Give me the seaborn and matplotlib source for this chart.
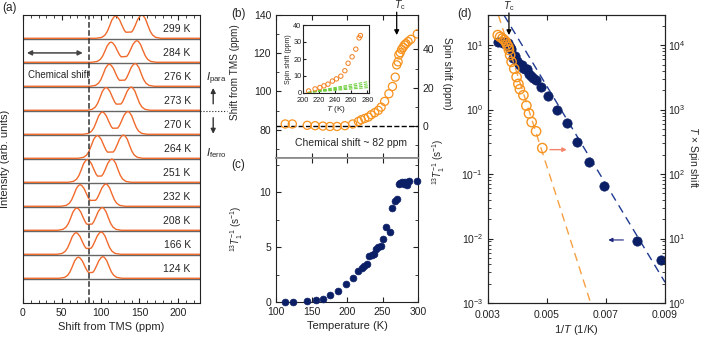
import numpy as np
import matplotlib
matplotlib.use("Agg")
import matplotlib.pyplot as plt
import seaborn as sns
from matplotlib.ticker import MultipleLocator, NullFormatter

# ---- (a) 13C NMR spectra -------------------------------------------------
spec_labels = ["124 K", "166 K", "208 K", "232 K", "251 K", "264 K",
               "270 K", "273 K", "276 K", "284 K", "299 K"]
peak1_ppm = [71.5, 68.5, 69.4, 73.7, 83.1, 95.9, 102.4, 107.1, 111.3, 113.5, 119.5]
peak2_ppm = [102.8, 100.6, 101.9, 106.6, 114.3, 129.3, 134.9, 139.2, 144.3, 146.5, 152.9]
peak1_h = [0.88, 0.90, 0.93, 0.90, 0.95, 0.95, 0.93, 0.95, 0.92, 0.84, 0.93]
peak2_h = [0.90, 0.93, 0.95, 0.93, 0.97, 0.97, 0.95, 0.97, 0.95, 0.90, 0.97]
# one peak's line profile (ppm offset, relative height)
profile_dx = [-25, -18, -14, -11, -8, -5, -2, 0, 2, 5, 8, 11, 13]
profile_y = [0.0, 0.04, 0.14, 0.30, 0.55, 0.82, 0.97, 1.0, 0.96, 0.82, 0.58, 0.36, 0.27]
chem_line_ppm = 85

# ---- (b) shift from TMS vs temperature ------------------------------------
shift_T = [113, 123, 144, 155, 166, 176, 186, 197, 208, 216, 220, 225, 230, 234,
           239, 244, 248, 253, 259, 264, 268, 270, 272, 273, 275, 277, 279, 281,
           283, 286, 290, 299]
shift_ppm = [83.0, 83.0, 82.3, 82.1, 81.9, 81.7, 81.7, 82.1, 83.0, 84.3, 85.2, 85.9,
             86.6, 87.8, 88.9, 90.1, 91.8, 94.8, 98.8, 102.6, 107.5, 113.9, 115.5,
             119.1, 120.3, 122.0, 123.1, 124.3, 125.0, 126.1, 127.3, 130.1]
chem_shift = 82

# inset: spin shift
inset_T = [207, 215, 221, 226, 231, 236.5, 241.5, 247, 252, 256, 261, 265.6, 269.7, 271.4]
inset_spin = [1.2, 2.4, 3.2, 4.2, 5.2, 7.0, 8.3, 9.9, 13.1, 17.5, 21.3, 25.8, 32.4, 33.8]
green_x = [206, 282]
green_ends = [6.8, 5.5, 4.3, 3.2]

# ---- (c)/(d) 13C 1/T1 ------------------------------------------------------
t1_T = [112.6, 124, 144, 156, 166.5, 176, 187, 198, 208, 216, 221, 224, 228, 231.6,
        235, 238, 241, 244, 247.5, 251, 255, 260, 264, 268, 270, 273, 275, 278, 280,
        282, 284, 288, 299]
t1_rate = [0.0046, 0.0093, 0.066, 0.153, 0.314, 0.61, 0.97, 1.61, 2.2, 2.85, 3.1,
           3.3, 3.5, 4.2, 4.3, 4.4, 4.85, 5.0, 5.1, 5.76, 6.8, 6.36, 8.55, 9.2, 9.4,
           10.76, 10.8, 10.9, 10.7, 10.9, 10.6, 11.0, 11.0]

# ---- (d) T x spin shift vs 1/T ----------------------------------------------
tspin_invT = [0.00333, 0.00341, 0.00349, 0.00355, 0.00360, 0.00364, 0.00369,
              0.00371, 0.00375, 0.00380, 0.00389, 0.00397, 0.00403, 0.00408,
              0.00420, 0.00430, 0.00439, 0.00448, 0.00463, 0.00484]
tspin_val = [14300, 13400, 12700, 12000, 11300, 10200, 9400, 8400, 7000, 5500,
             4300, 3200, 2500, 2070, 1670, 1150, 870, 640, 460, 253]
fit_t1_x = [0.00354, 0.009]
fit_t1_y = [29.3, 0.0021]
fit_spin_x = [0.00335, 0.00648]
fit_spin_y = [29300, 1.0]

ORANGE = "#f7931e"
SPEC = "#f06a2c"
NAVY = "#0b1f66"

sns.set_style("ticks")
plt.rcParams["font.family"] = ["Liberation Sans", "DejaVu Sans"]
plt.rcParams.update({
    "mathtext.fontset": "custom",
    "mathtext.rm": "Liberation Sans",
    "mathtext.it": "Liberation Sans:italic",
    "mathtext.bf": "Liberation Sans:bold",
    "xtick.direction": "in", "ytick.direction": "in",
    "xtick.labelsize": 7.5, "ytick.labelsize": 7.5,
    "axes.labelsize": 8, "axes.linewidth": 0.8,
    "axes.edgecolor": "#222222",
    "xtick.major.size": 3.5, "ytick.major.size": 3.5,
    "xtick.minor.size": 2, "ytick.minor.size": 2,
    "xtick.color": "#222222", "ytick.color": "#222222",
})

W, H = 708, 342
fig = plt.figure(figsize=(W / 100, H / 100), dpi=100)


def box(x0, y0, x1, y1):
    return [x0 / W, 1 - y1 / H, (x1 - x0) / W, (y1 - y0) / H]


ax_a = fig.add_axes(box(23, 15, 200, 303))
ax_b = fig.add_axes(box(276, 15, 418, 158))
ax_c = fig.add_axes(box(276, 158, 418, 302))
ax_d = fig.add_axes(box(488, 15, 665, 303))
ax_in = fig.add_axes(box(303, 25, 369, 93))

# ---------------- (a)
for i, lab in enumerate(spec_labels):
    base = i + 1
    p1, p2, h1, h2 = peak1_ppm[i], peak2_ppm[i], peak1_h[i], peak2_h[i]
    xs = [0] + [p1 + d for d in profile_dx] + [p2 - d for d in profile_dx[::-1]] + [228]
    ys = [0] + [h1 * v for v in profile_y] + [h2 * v for v in profile_y[::-1]] + [0]
    ax_a.axhline(base, color="#666666", lw=1, zorder=1)
    sns.lineplot(x=xs, y=np.array(ys) + base + 0.03, sort=False, estimator=None,
                 ax=ax_a, color=SPEC, lw=1, zorder=2)
    ax_a.text(216, base + 0.42, lab, ha="right", va="center", fontsize=7.5)

ax_a.axvline(chem_line_ppm, color="#333333", ls="--", lw=1.1, zorder=3)
ax_a.set_xlim(0, 228)
ax_a.set_ylim(0, 12)
ax_a.set_yticks([])
ax_a.set_xticks([0, 50, 100, 150, 200])
ax_a.xaxis.set_minor_locator(MultipleLocator(10))
ax_a.tick_params(axis="x", which="both", top=True)
ax_a.set_xlabel("Shift from TMS (ppm)", labelpad=3)
ax_a.set_ylabel("Intensity (arb. units)")
ax_a.yaxis.set_label_coords(-0.075, 0.5)

ax_a.annotate("", xy=(5, 10.42), xytext=(77, 10.42),
              arrowprops=dict(arrowstyle="<|-|>", color="#444444", lw=1.1,
                              mutation_scale=7, shrinkA=0, shrinkB=0))
ax_a.text(6, 9.5, "Chemical shift", ha="left", va="center", fontsize=7)
ax_a.plot([228, 263], [8, 8], ls=":", color="#222222", lw=0.8, clip_on=False)
ax_a.annotate("", xy=(245, 8.96), xytext=(245, 8.3), annotation_clip=False,
              arrowprops=dict(arrowstyle="-|>", color="#333333", lw=1,
                              mutation_scale=7, shrinkA=0, shrinkB=0))
ax_a.annotate("", xy=(245, 7.05), xytext=(245, 7.72), annotation_clip=False,
              arrowprops=dict(arrowstyle="-|>", color="#333333", lw=1,
                              mutation_scale=7, shrinkA=0, shrinkB=0))
ax_a.text(236, 9.35, r"$I_\mathrm{para}$", fontsize=8, va="center", clip_on=False)
ax_a.text(236, 6.25, r"$I_\mathrm{ferro}$", fontsize=8, va="center", clip_on=False)

# ---------------- (b)
ax_b.axhline(chem_shift, color="k", ls="--", lw=1)
sns.scatterplot(x=shift_T, y=shift_ppm, ax=ax_b, s=34, facecolor="none",
                edgecolor=ORANGE, linewidth=0.9, zorder=3)
ax_b.set_xlim(100, 300)
ax_b.set_ylim(65.2, 140)
ax_b.set_yticks([80, 100, 120, 140])
ax_b.yaxis.set_minor_locator(MultipleLocator(10))
ax_b.set_xticks([100, 150, 200, 250, 300])
ax_b.xaxis.set_major_formatter(NullFormatter())
ax_b.tick_params(axis="x", which="both", top=True)
ax_b.set_ylabel("Shift from TMS (ppm)", fontsize=7.2)
ax_b.yaxis.set_label_coords(-0.25, 0.6)
ax_b.spines["bottom"].set_color("#888888")
ax_b.spines["bottom"].set_linewidth(1.2)
sec = ax_b.secondary_yaxis("right", functions=(lambda y: y - chem_shift,
                                                lambda y: y + chem_shift))
sec.set_yticks([0, 20, 40])
sec.yaxis.set_minor_locator(MultipleLocator(10))
sec.tick_params(which="both", direction="in")
fig.text(447 / W, 1 - 73 / H, "Spin shift (ppm)", rotation=270, fontsize=7.5,
         ha="center", va="center")
ax_b.text(205, 73.2, "Chemical shift ~ 82 ppm", ha="center", va="center", fontsize=7.5)
ax_b.annotate("", xy=(270, 129.5), xytext=(270, 141.5), annotation_clip=False,
              arrowprops=dict(arrowstyle="-|>", color="k", lw=0.9,
                              mutation_scale=7, shrinkA=0, shrinkB=0))
ax_b.text(274, 145, r"$T_\mathrm{c}$", ha="center", va="center", fontsize=7.5,
          clip_on=False)

# inset
for e in green_ends:
    ax_in.plot(green_x, [0.3, e], ls="--", color="#66cc33", lw=0.7)
sns.scatterplot(x=inset_T, y=inset_spin, ax=ax_in, s=10, facecolor="none",
                edgecolor="#f07f1e", linewidth=0.7, zorder=3)
ax_in.set_xlim(200, 282)
ax_in.set_ylim(0, 40)
ax_in.set_xticks([200, 220, 240, 260, 280])
ax_in.set_yticks([0, 10, 20, 30, 40])
ax_in.tick_params(labelsize=5.3, length=2)
ax_in.tick_params(axis="x", pad=2.8)
ax_in.tick_params(axis="y", pad=1.0)
ax_in.set_xlabel(r"$T$ (K)", fontsize=6, labelpad=0)
ax_in.set_ylabel("Spin shift (ppm)", fontsize=5, labelpad=1)

# ---------------- (c)
sns.scatterplot(x=t1_T, y=t1_rate, ax=ax_c, s=24, color=NAVY, edgecolor=NAVY,
                linewidth=0.5, clip_on=False, zorder=3)
ax_c.set_xlim(100, 300)
ax_c.set_ylim(0, 13.1)
ax_c.set_yticks([0, 5, 10])
ax_c.yaxis.set_minor_locator(MultipleLocator(2.5))
ax_c.set_xticks([100, 150, 200, 250, 300])
ax_c.tick_params(axis="x", which="both", top=True)
ax_c.tick_params(axis="y", which="both", right=True)
ax_c.spines["top"].set_color("#888888")
ax_c.spines["top"].set_linewidth(1.2)
ax_c.set_xlabel("Temperature (K)", labelpad=3)
ax_c.set_ylabel(r"$^{13}T_1^{-1}$ (s$^{-1}$)", fontsize=7)
ax_c.yaxis.set_label_coords(-0.22, 0.51)

# ---------------- (d)
inv_T = [1.0 / t for t in t1_T]
ax_d.plot(fit_t1_x, fit_t1_y, ls=(0, (6, 4)), color="#1f3a93", lw=1)
sns.scatterplot(x=inv_T, y=t1_rate, ax=ax_d, s=45, color=NAVY, edgecolor=NAVY,
                linewidth=0.5, zorder=3)
ax_d.set_yscale("log")
ax_d.set_xlim(0.003, 0.009)
ax_d.set_ylim(1e-3, 29.3)
ax_d.set_xticks([0.003, 0.005, 0.007, 0.009])
ax_d.set_xticklabels(["0.003", "0.005", "0.007", "0.009"])
ax_d.tick_params(axis="x", which="both", top=True, pad=5)
ax_d.set_xlabel(r"1/$T$ (1/K)", labelpad=2)
ax_d.set_ylabel(r"$^{13}T_1^{-1}$ (s$^{-1}$)", fontsize=7)
ax_d.yaxis.set_label_coords(-0.23, 0.49)
ax_d.annotate("", xy=(0.00708, 0.0095), xytext=(0.00759, 0.0095),
              arrowprops=dict(arrowstyle="-|>", color="#1a237e", lw=0.8,
                              mutation_scale=6, shrinkA=0, shrinkB=0))
ax_d.annotate("", xy=(0.00371, 14.3), xytext=(0.00371, 31.5), annotation_clip=False,
              arrowprops=dict(arrowstyle="-|>", color="k", lw=0.9,
                              mutation_scale=7, shrinkA=0, shrinkB=0))
ax_d.text(0.00371, 40, r"$T_\mathrm{c}$", ha="center", va="center", fontsize=7.5,
          clip_on=False)

ax_d2 = ax_d.twinx()
ax_d2.plot(fit_spin_x, fit_spin_y, ls=(0, (6, 4)), color="#f7a043", lw=1)
sns.scatterplot(x=tspin_invT, y=tspin_val, ax=ax_d2, s=45, facecolor="none",
                edgecolor=ORANGE, linewidth=1, zorder=3)
ax_d2.set_yscale("log")
ax_d2.set_ylim(1, 29300)
ax_d2.tick_params(which="both", direction="in", pad=2)
ax_d2.set_ylabel(r"$T$ × Spin shift", rotation=270, fontsize=7.5)
ax_d2.yaxis.set_label_coords(1.2, 0.505)
ax_d2.annotate("", xy=(0.00567, 239), xytext=(0.0051, 239),
               arrowprops=dict(arrowstyle="-|>", color="#f4846a", lw=1,
                               mutation_scale=6, shrinkA=0, shrinkB=0))

# panel letters
fig.text(2 / W, 1 - 8 / H, "(a)", fontsize=8.5, va="center")
fig.text(231 / W, 1 - 14 / H, "(b)", fontsize=8.5, va="center")
fig.text(231 / W, 1 - 165 / H, "(c)", fontsize=8.5, va="center")
fig.text(457 / W, 1 - 14 / H, "(d)", fontsize=8.5, va="center")

fig.savefig("out.png", dpi=100)
